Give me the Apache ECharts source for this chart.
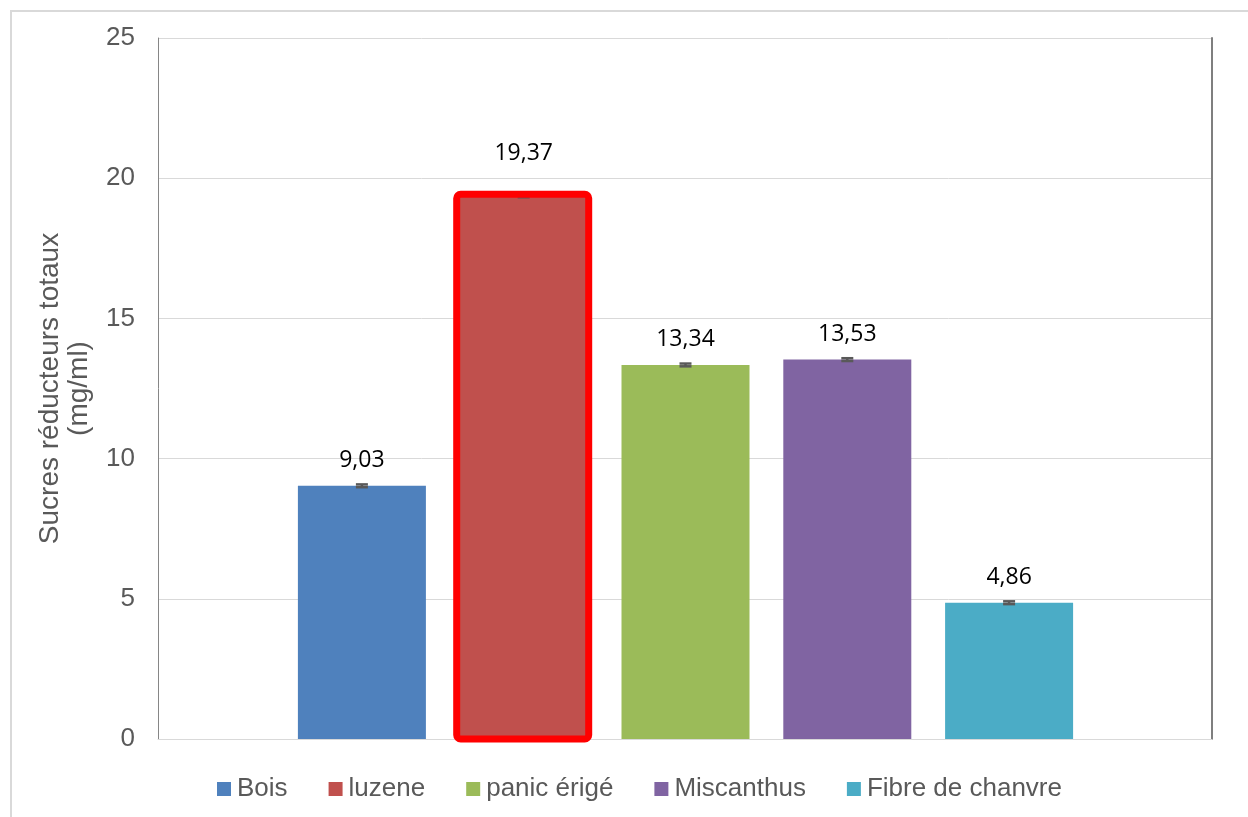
<!DOCTYPE html>
<html>
<head>
<meta charset="utf-8">
<script src="https://cdn.jsdelivr.net/npm/echarts@6/dist/echarts.min.js"></script>
<style>
  html, body { margin: 0; padding: 0; background: #fff; }
  #chart { width: 1248px; height: 817px; }
</style>
</head>
<body>
<div id="chart"></div>
<script>
// Total reducing sugars per biomass (mg/ml)
const categories = ['Bois', 'luzene', 'panic érigé', 'Miscanthus', 'Fibre de chanvre'];
const values = [9.03, 19.37, 13.34, 13.53, 4.86];
const errors = [0.05, 0.05, 0.05, 0.05, 0.05];
const colors = ['#4F81BD', '#C0504D', '#9BBB59', '#8064A2', '#4BACC6'];
const yMin = 0, yMax = 25, yStep = 5;
const highlighted = 'luzene';

const BAR_WIDTH = 128;
const fmt = v => v.toFixed(2).replace('.', ',');
const axisFont = 'Liberation Sans, Arial, sans-serif';
const labelFont = 'Open Sans, Noto Sans, sans-serif';

const barSeries = categories.map((name, i) => ({
  name: name,
  type: 'bar',
  xAxisIndex: 1,
  yAxisIndex: 2,
  barWidth: BAR_WIDTH,
  barGap: '-100%',
  data: categories.map((c, j) => (j === i ? values[i] : '-')),
  itemStyle: { color: colors[i] },
  label: {
    show: true,
    position: 'top',
    distance: name === highlighted ? 31 : 14,
    formatter: p => fmt(p.value),
    color: '#000',
    fontSize: 23,
    fontFamily: labelFont
  },
  emphasis: { disabled: true }
}));

// small caps showing the spread around each mean
const errorSeries = {
  type: 'custom',
  xAxisIndex: 1,
  yAxisIndex: 2,
  z: 5,
  silent: true,
  data: values.map((v, i) => [i, v - errors[i], v + errors[i]]),
  renderItem: (params, api) => {
    const x = api.value(0);
    const lo = api.coord([x, api.value(1)]);
    const hi = api.coord([x, api.value(2)]);
    const half = 6;
    const style = { stroke: '#595959', lineWidth: 2.5 };
    return {
      type: 'group',
      children: [
        { type: 'line', shape: { x1: hi[0], y1: hi[1], x2: lo[0], y2: lo[1] }, style },
        { type: 'line', shape: { x1: hi[0] - half, y1: hi[1], x2: hi[0] + half, y2: hi[1] }, style },
        { type: 'line', shape: { x1: lo[0] - half, y1: lo[1], x2: lo[0] + half, y2: lo[1] }, style }
      ]
    };
  }
};

// red frame around the highlighted bar
const hiIndex = categories.indexOf(highlighted);
const frameSeries = {
  type: 'custom',
  xAxisIndex: 1,
  yAxisIndex: 2,
  z: 10,
  silent: true,
  data: [[hiIndex, values[hiIndex]]],
  renderItem: (params, api) => {
    const top = api.coord([api.value(0), api.value(1)]);
    const base = api.coord([api.value(0), 0]);
    const half = BAR_WIDTH / 2 + 2;
    return {
      type: 'rect',
      shape: { x: top[0] - half - 1, y: top[1] - 1.5, width: 2 * half, height: base[1] - top[1] + 1.5, r: 4 },
      style: { fill: 'none', stroke: '#FF0000', lineWidth: 7 }
    };
  }
};

const chart = echarts.init(document.getElementById('chart'), null, { renderer: 'canvas' });
chart.setOption({
  animation: false,
  backgroundColor: '#fff',
  color: colors,
  graphic: [{
    type: 'rect',
    shape: { x: 11, y: 11, width: 1300, height: 900 },
    style: { fill: 'none', stroke: '#d9d9d9', lineWidth: 2 },
    silent: true,
    z: -10
  }],
  legend: {
    data: categories,
    left: 217,
    top: 776,
    padding: 0,
    icon: 'rect',
    itemWidth: 14,
    itemHeight: 14,
    itemGap: 41,
    textStyle: { fontSize: 26, color: '#595959', fontFamily: axisFont, padding: [0, 0, 0, 1] },
    selectedMode: false
  },
  grid: [
    { left: 158, right: 36, top: 38, bottom: 78 },
    { left: 281, width: 809, top: 38, bottom: 78 }
  ],
  xAxis: [
    {
      gridIndex: 0,
      type: 'category',
      data: [''],
      axisLine: { show: true, lineStyle: { color: '#d9d9d9', width: 1 } },
      axisTick: { show: false },
      axisLabel: { show: false }
    },
    {
      gridIndex: 1,
      type: 'category',
      data: categories,
      show: false
    }
  ],
  yAxis: [
    {
      gridIndex: 0,
      type: 'value',
      min: yMin,
      max: yMax,
      interval: yStep,
      name: 'Sucres réducteurs totaux\n(mg/ml)',
      nameLocation: 'middle',
      nameRotate: 90,
      nameGap: 64,
      nameTextStyle: { fontSize: 28, lineHeight: 29, color: '#595959', fontFamily: axisFont },
      axisLine: { show: true, lineStyle: { color: '#868686', width: 1 } },
      axisTick: { show: false },
      axisLabel: { fontSize: 26, color: '#595959', margin: 23, fontFamily: axisFont },
      splitLine: { show: true, lineStyle: { color: '#d9d9d9', width: 1 } }
    },
    {
      gridIndex: 0,
      type: 'value',
      position: 'right',
      min: yMin,
      max: yMax,
      interval: yStep,
      axisLine: { show: true, lineStyle: { color: '#7f7f7f', width: 2 } },
      axisTick: { show: false },
      axisLabel: { show: false },
      splitLine: { show: false }
    },
    {
      gridIndex: 1,
      type: 'value',
      min: yMin,
      max: yMax,
      interval: yStep,
      show: false,
      splitLine: { show: false }
    }
  ],
  series: [...barSeries, errorSeries, frameSeries]
});
</script>
</body>
</html>
